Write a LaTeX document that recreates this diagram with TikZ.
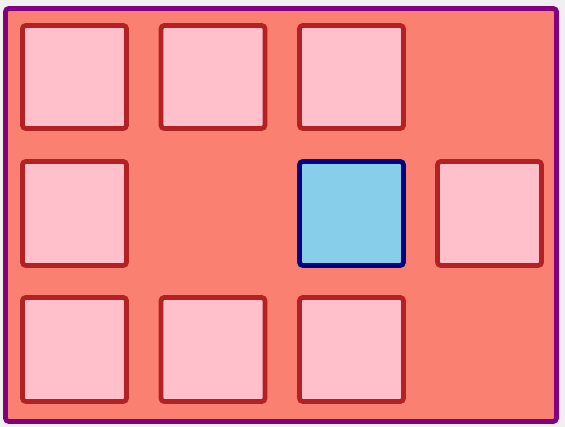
\documentclass[tikz,border=0pt]{standalone}
\definecolor{bgray}{HTML}{F0F0F0}
\definecolor{salmonc}{HTML}{FA8072}
\definecolor{purplec}{HTML}{800080}
\definecolor{pinkc}{HTML}{FFC0CB}
\definecolor{firebrickc}{HTML}{B22222}
\definecolor{skybluec}{HTML}{87CEEB}
\definecolor{navyc}{HTML}{000080}
\begin{document}
\begin{tikzpicture}[x=0.75pt,y=-0.75pt,
  outerbox/.style={draw=purplec,fill=salmonc,line width=3.6pt,rounded corners=2.5pt},
  cell/.style={draw=firebrickc,fill=pinkc,line width=3.6pt,rounded corners=2.5pt},
  hicell/.style={draw=navyc,fill=skybluec,line width=3.6pt,rounded corners=2.5pt}]
\fill[bgray] (0,0) rectangle (565,427);
\useasboundingbox (0,0) rectangle (565,427);
\draw[outerbox] (5.5,8.5) rectangle (556.5,421.5);
% row 1
\draw[cell] (22.5,25.5) rectangle (126.5,128.5);
\draw[cell] (161,25.5) rectangle (265,128.5);
\draw[cell] (299.5,25.5) rectangle (403.5,128.5);
% row 2
\draw[cell] (22.5,161.5) rectangle (126.5,265.5);
\draw[hicell] (299.5,161.5) rectangle (403.5,265.5);
\draw[cell] (437.5,161.5) rectangle (541.5,265.5);
% row 3
\draw[cell] (22.5,297.5) rectangle (126.5,401.5);
\draw[cell] (161,297.5) rectangle (265,401.5);
\draw[cell] (299.5,297.5) rectangle (403.5,401.5);
\end{tikzpicture}
\end{document}
